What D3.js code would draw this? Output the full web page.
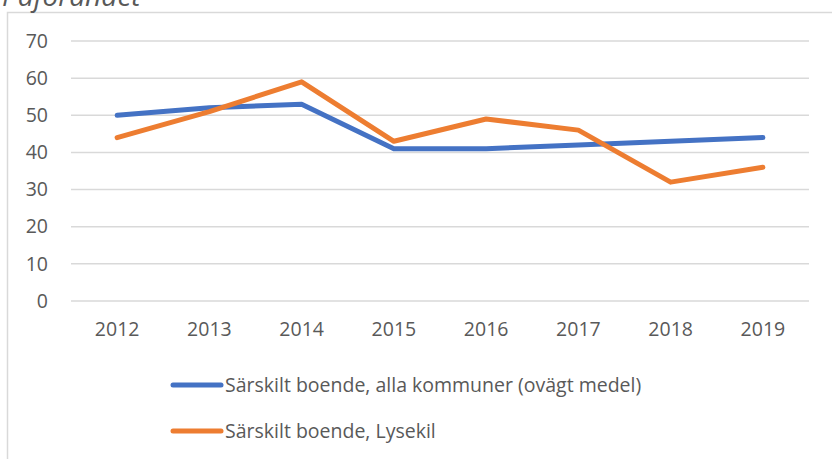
<!DOCTYPE html>
<html><head><meta charset="utf-8">
<script src="https://cdn.jsdelivr.net/npm/d3@7"></script>
<style>body{margin:0;background:#fff}svg{display:block}text{font-family:"Open Sans",sans-serif}</style>
</head><body>
<script>
const categories = ["2012","2013","2014","2015","2016","2017","2018","2019"];
const seriesNames = ["Särskilt boende, alla kommuner (ovägt medel)","Särskilt boende, Lysekil"];
const allaKommuner = [50,52,53,41,41,42,43,44];
const lysekil = [44,51,59,43,49,46,32,36];
const yTicks = [0,10,20,30,40,50,60,70];
const colors = ["#4472C4","#ED7D31"];
const W=832,H=459;
const fs=19.5;
const svg=d3.select("body").append("svg").attr("width",W).attr("height",H);
// frame
svg.append("path").attr("d",`M7.5,${H} V12.5 H${W}`).attr("fill","none").attr("stroke","#d9d9d9").attr("stroke-width",1.5);
// title (cut off at top as in the reference)
svg.append("text").attr("x",2).attr("y",6).attr("font-style","italic").attr("font-size",28).attr("fill","#595959").text("Påförandet");
const x=d3.scaleBand().domain(categories).range([71,809]);
const y=d3.scaleLinear().domain([0,70]).range([301,41]);
const grid=svg.append("g");
yTicks.forEach(t=>{
  grid.append("line").attr("x1",71).attr("x2",809).attr("y1",y(t)).attr("y2",y(t)).attr("stroke","#d9d9d9").attr("stroke-width",1.5);
});
const yAxis=d3.axisLeft(y).tickValues(yTicks).tickSize(0).tickPadding(0);
const gy=svg.append("g").attr("transform","translate(48,0)").call(yAxis);
gy.select(".domain").remove();
gy.selectAll("text").attr("font-size",fs).attr("fill","#595959").attr("font-family","Open Sans, sans-serif");
const xAxis=d3.axisBottom(x).tickSize(0).tickPadding(0);
const gx=svg.append("g").attr("transform","translate(0,322)").call(xAxis);
gx.select(".domain").remove();
gx.selectAll("text").attr("font-size",fs).attr("fill","#595959").attr("font-family","Open Sans, sans-serif");
const line=d3.line().x((d,i)=>x(categories[i])+x.bandwidth()/2).y(d=>y(d));
[allaKommuner,lysekil].forEach((s,k)=>{
  svg.append("path").attr("d",line(s)).attr("fill","none").attr("stroke",colors[k]).attr("stroke-width",5).attr("stroke-linecap","round").attr("stroke-linejoin","round");
});
// legend
const leg=[385,431];
seriesNames.forEach((n,k)=>{
  svg.append("line").attr("x1",173).attr("x2",221).attr("y1",leg[k]).attr("y2",leg[k]).attr("stroke",colors[k]).attr("stroke-width",5).attr("stroke-linecap","round");
  svg.append("text").attr("x",225).attr("y",leg[k]).attr("dy","0.35em").attr("font-size",fs).attr("fill","#595959").text(n);
});
</script>
</body></html>
